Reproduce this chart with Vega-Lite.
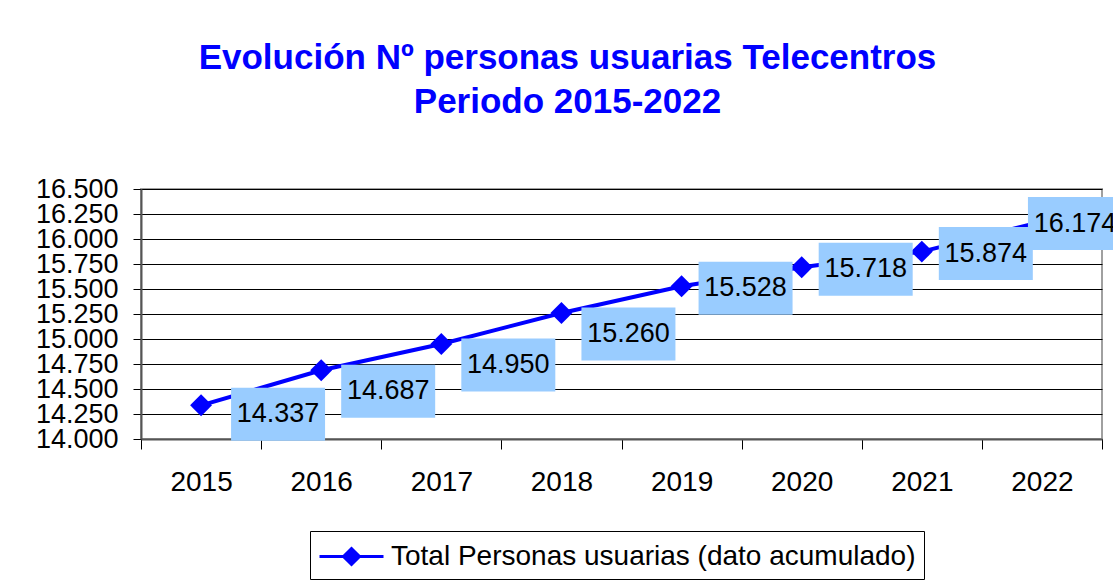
{
  "$schema": "https://vega.github.io/schema/vega-lite/v6.json",
  "width": 961,
  "height": 250,
  "autosize": {"type": "none"},
  "padding": {"left": 141, "top": 189, "right": 11, "bottom": 144},
  "background": "white",
  "config": {
    "locale": {"number": {"decimal": ",", "thousands": ".", "grouping": [3], "currency": ["", " €"]}},
    "font": "Liberation Sans",
    "view": {"stroke": "#a0a0a0", "strokeWidth": 2}
  },
  "title": {
    "text": ["Evolución Nº personas usuarias Telecentros", "Periodo 2015-2022"],
    "fontSize": 35,
    "fontWeight": "bold",
    "color": "#0000FF",
    "font": "Liberation Sans",
    "lineHeight": 44,
    "offset": 55,
    "dx": -54,
    "anchor": "middle"
  },
  "data": {
    "values": [
      {"year": "2015", "value": 14337},
      {"year": "2016", "value": 14687},
      {"year": "2017", "value": 14950},
      {"year": "2018", "value": 15260},
      {"year": "2019", "value": 15528},
      {"year": "2020", "value": 15718},
      {"year": "2021", "value": 15874},
      {"year": "2022", "value": 16174}
    ]
  },
  "encoding": {
    "x": {
      "field": "year",
      "type": "ordinal",
      "scale": {"type": "band", "paddingInner": 0, "paddingOuter": 0},
      "axis": {
        "title": null,
        "labelAngle": 0,
        "tickBand": "extent",
        "tickSize": 10,
        "tickColor": "black",
        "domainColor": "#555555",
        "domainWidth": 2,
        "labelFontSize": 28,
        "labelColor": "black",
        "labelPadding": 19,
        "grid": false
      }
    },
    "y": {
      "field": "value",
      "type": "quantitative",
      "scale": {"domain": [14000, 16500], "nice": false, "zero": false},
      "axis": {
        "title": null,
        "values": [14000, 14250, 14500, 14750, 15000, 15250, 15500, 15750, 16000, 16250, 16500],
        "format": ",d",
        "labelOverlap": false,
        "grid": true,
        "gridColor": "black",
        "gridWidth": 1,
        "gridOpacity": 1,
        "domainColor": "#555555",
        "domainWidth": 2,
        "tickColor": "black",
        "tickSize": 8,
        "labelFontSize": 27,
        "labelColor": "black",
        "labelPadding": 15
      }
    }
  },
  "layer": [
    {
      "mark": {"type": "line", "strokeWidth": 4},
      "encoding": {
        "color": {
          "datum": "Total Personas usuarias (dato acumulado)",
          "scale": {"range": ["#0000FF"]},
          "legend": {
            "title": null,
            "orient": "none",
            "legendX": 169,
            "legendY": 342,
            "strokeColor": "black",
            "padding": 8,
            "labelFontSize": 28,
            "labelColor": "black",
            "labelFont": "Liberation Sans",
            "labelLimit": 1000,
            "symbolType": "M-1,0H3M0.5,0L1,-0.5L1.5,0L1,0.5Z",
            "symbolSize": 1024,
            "symbolStrokeWidth": 3,
            "labelOffset": 38,
            "encode": {
              "symbols": {"update": {"fill": {"value": "#0000FF"}, "stroke": {"value": "#0000FF"}, "strokeWidth": {"value": 3}}}
            }
          }
        }
      }
    },
    {
      "mark": {"type": "point", "shape": "diamond", "filled": true, "size": 480, "color": "#0000FF", "opacity": 1}
    },
    {
      "transform": [{"filter": "datum.year == '2015'"}],
      "layer": [
        {"mark": {"type": "point", "shape": "M-1,-0.564H1V0.564H-1Z", "filled": true, "size": 8836, "color": "#99CCFF", "opacity": 1, "xOffset": 77, "yOffset": 9}},
        {"mark": {"type": "text", "fontSize": 27, "color": "black", "font": "Liberation Sans", "xOffset": 77, "yOffset": 9},
         "encoding": {"text": {"field": "value", "type": "quantitative", "format": ",d"}}}
      ]
    },
    {
      "transform": [{"filter": "datum.year == '2016' || datum.year == '2017' || datum.year == '2018'"}],
      "layer": [
        {"mark": {"type": "point", "shape": "M-1,-0.564H1V0.564H-1Z", "filled": true, "size": 8836, "color": "#99CCFF", "opacity": 1, "xOffset": 67, "yOffset": 21}},
        {"mark": {"type": "text", "fontSize": 27, "color": "black", "font": "Liberation Sans", "xOffset": 67, "yOffset": 21},
         "encoding": {"text": {"field": "value", "type": "quantitative", "format": ",d"}}}
      ]
    },
    {
      "transform": [{"filter": "datum.year == '2019' || datum.year == '2020' || datum.year == '2021'"}],
      "layer": [
        {"mark": {"type": "point", "shape": "M-1,-0.564H1V0.564H-1Z", "filled": true, "size": 8836, "color": "#99CCFF", "opacity": 1, "xOffset": 64, "yOffset": 2}},
        {"mark": {"type": "text", "fontSize": 27, "color": "black", "font": "Liberation Sans", "xOffset": 64, "yOffset": 2},
         "encoding": {"text": {"field": "value", "type": "quantitative", "format": ",d"}}}
      ]
    },
    {
      "transform": [{"filter": "datum.year == '2022'"}],
      "layer": [
        {"mark": {"type": "point", "shape": "M-1,-0.564H1V0.564H-1Z", "filled": true, "size": 8836, "color": "#99CCFF", "opacity": 1, "xOffset": 33, "yOffset": 2}},
        {"mark": {"type": "text", "fontSize": 27, "color": "black", "font": "Liberation Sans", "xOffset": 33, "yOffset": 2},
         "encoding": {"text": {"field": "value", "type": "quantitative", "format": ",d"}}}
      ]
    }
  ]
}
